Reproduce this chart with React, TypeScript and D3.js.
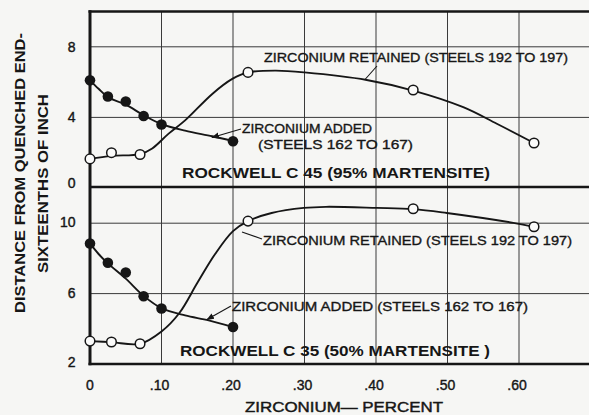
import React from "react";
import * as d3 from "d3";

// ---- data ----
const xAdded = [0, 0.025, 0.05, 0.075, 0.1, 0.2];
const topAdded = [6.1, 5.18, 4.9, 4.08, 3.6, 2.65];
const botAdded = [8.85, 7.75, 7.2, 5.85, 5.15, 4.1];

const xRetained = [0, 0.03, 0.07, 0.221, 0.452, 0.621];
const topRetained = [1.65, 2.0, 1.9, 6.55, 5.55, 2.55];
const botRetained = [3.3, 3.25, 3.15, 10.12, 10.82, 9.8];

// faired curves (as drawn in the picture)
const topAddedFitX = [0, 0.012, 0.025, 0.05, 0.075, 0.1, 0.133, 0.171, 0.2];
const topAddedFitY = [6.1, 5.62, 5.15, 4.72, 4.12, 3.62, 3.25, 2.93, 2.66];
const topRetFitX = [0, 0.03, 0.07, 0.087, 0.11, 0.133, 0.171, 0.199, 0.221, 0.26, 0.3, 0.387, 0.452, 0.522, 0.569, 0.621];
const topRetFitY = [1.65, 1.82, 1.92, 2.24, 3.08, 3.83, 5.33, 6.18, 6.55, 6.65, 6.55, 6.12, 5.52, 4.58, 3.64, 2.55];
const botAddedFitX = [0, 0.012, 0.025, 0.05, 0.075, 0.1, 0.133, 0.166, 0.2];
const botAddedFitY = [8.85, 8.25, 7.72, 6.85, 5.87, 5.17, 4.76, 4.48, 4.1];
const botRetFitX = [0, 0.03, 0.07, 0.1, 0.125, 0.15, 0.175, 0.2, 0.221, 0.254, 0.299, 0.33, 0.401, 0.452, 0.499, 0.592, 0.621];
const botRetFitY = [3.3, 3.24, 3.15, 3.85, 4.9, 6.6, 8.25, 9.55, 10.12, 10.58, 10.87, 10.93, 10.87, 10.8, 10.58, 10.02, 9.79];

const xTicks = [0, 0.1, 0.2, 0.3, 0.4, 0.5, 0.6];
const xTickLabels = ["0", ".10", ".20", ".30", ".40", ".50", ".60"];
const topYTicks = [0, 4, 8];
const botYTicks = [2, 6, 10];

const W = 589;
const H = 415;
const FONT = "'Liberation Sans', Arial, sans-serif";
const INK = "#161616";

export default function App() {
  const x = d3.scaleLinear().domain([0, 0.7]).range([90, 590.5]);
  const yTop = d3.scaleLinear().domain([0, 10]).range([188, 11.5]);
  const yBot = d3.scaleLinear().domain([2, 12]).range([364, 188]);

  const mkLine = (ys: d3.ScaleLinear<number, number>) =>
    d3
      .line<[number, number]>()
      .x((d) => x(d[0]))
      .y((d) => ys(d[1]))
      .curve(d3.curveCatmullRom.alpha(0.5));

  const zip = (a: number[], b: number[]) => a.map((v, i) => [v, b[i]] as [number, number]);

  const topLine = mkLine(yTop);
  const botLine = mkLine(yBot);

  const gridStroke = "#3a3a3a";

  return (
    <svg
      width={W}
      height={H}
      viewBox={`0 0 ${W} ${H}`}
      style={{ position: "absolute", left: 0, top: 0, background: "#f6f6f4" }}
      fontFamily={FONT}
    >
      <defs>
        <marker id="arr" viewBox="0 0 10 10" refX="9" refY="5" markerWidth="7" markerHeight="7" orient="auto-start-reverse">
          <path d="M0,1 L10,5 L0,9 z" fill={INK} />
        </marker>
      </defs>
      <rect x={0} y={0} width={W} height={H} fill="#f6f6f4" />

      {/* vertical grid */}
      {xTicks.slice(1).map((t) => (
        <line key={"vx" + t} x1={x(t)} x2={x(t)} y1={yTop(10)} y2={yBot(2)} stroke={gridStroke} strokeWidth={1} />
      ))}
      {/* horizontal grid */}
      {[4, 8].map((t) => (
        <line key={"ht" + t} x1={x(0)} x2={W + 5} y1={yTop(t)} y2={yTop(t)} stroke={gridStroke} strokeWidth={1} />
      ))}
      {[6, 10].map((t) => (
        <line key={"hb" + t} x1={x(0)} x2={W + 5} y1={yBot(t)} y2={yBot(t)} stroke={gridStroke} strokeWidth={1} />
      ))}

      {/* frame */}
      <line x1={x(0) - 1.5} x2={W + 5} y1={yTop(10)} y2={yTop(10)} stroke={INK} strokeWidth={2.6} />
      <line x1={x(0)} x2={W + 5} y1={187} y2={187} stroke={INK} strokeWidth={2.6} />
      <line x1={x(0) - 1.5} x2={W + 5} y1={yBot(2)} y2={yBot(2)} stroke={INK} strokeWidth={2.6} />
      <line x1={x(0)} x2={x(0)} y1={yTop(10) - 1.3} y2={yBot(2) + 1.3} stroke={INK} strokeWidth={3} />

      {/* curves */}
      <g fill="none" stroke={INK} strokeWidth={1.9}>
        <path d={topLine(zip(topAddedFitX, topAddedFitY)) || ""} />
        <path d={topLine(zip(topRetFitX, topRetFitY)) || ""} />
        <path d={botLine(zip(botAddedFitX, botAddedFitY)) || ""} />
        <path d={botLine(zip(botRetFitX, botRetFitY)) || ""} />
      </g>

      {/* markers */}
      {xAdded.map((v, i) => (
        <circle key={"ta" + i} cx={x(v)} cy={yTop(topAdded[i])} r={5.3} fill={INK} />
      ))}
      {xAdded.map((v, i) => (
        <circle key={"ba" + i} cx={x(v)} cy={yBot(botAdded[i])} r={5.3} fill={INK} />
      ))}
      {xRetained.map((v, i) => (
        <circle key={"tr" + i} cx={x(v)} cy={yTop(topRetained[i])} r={4.8} fill="#fbfbfa" stroke={INK} strokeWidth={1.5} />
      ))}
      {xRetained.map((v, i) => (
        <circle key={"br" + i} cx={x(v)} cy={yBot(botRetained[i])} r={4.8} fill="#fbfbfa" stroke={INK} strokeWidth={1.5} />
      ))}

      {/* leaders */}
      <g stroke={INK} strokeWidth={1.1} fill="none">
        <line x1={377} y1={66} x2={365} y2={79.5} />
        <line x1={241} y1={129} x2={212} y2={137.5} markerEnd="url(#arr)" />
        <line x1={242} y1={232} x2={262} y2={239} />
        <line x1={231} y1={306} x2={207} y2={319.5} markerEnd="url(#arr)" />
      </g>

      {/* annotations */}
      <g fill={INK} fontSize={13} stroke={INK} strokeWidth={0.35}>
        <text x={264} y={62} textLength={304} lengthAdjust="spacingAndGlyphs">ZIRCONIUM RETAINED (STEELS 192 TO 197)</text>
        <text x={242} y={133} textLength={130} lengthAdjust="spacingAndGlyphs">ZIRCONIUM ADDED</text>
        <text x={258} y={149} textLength={155} lengthAdjust="spacingAndGlyphs">(STEELS 162 TO 167)</text>
        <text x={263} y={245} textLength={309} lengthAdjust="spacingAndGlyphs">ZIRCONIUM RETAINED (STEELS 192 TO 197)</text>
        <text x={232} y={310.5} textLength={296} lengthAdjust="spacingAndGlyphs">ZIRCONIUM ADDED (STEELS 162 TO 167)</text>
      </g>
      <g fill={INK} fontSize={15} fontWeight="bold">
        <text x={182} y={177.5} textLength={308} lengthAdjust="spacingAndGlyphs">ROCKWELL C 45 (95% MARTENSITE)</text>
        <text x={180} y={356} textLength={310} lengthAdjust="spacingAndGlyphs">ROCKWELL C 35 (50% MARTENSITE )</text>
      </g>

      {/* y tick labels */}
      <g fill={INK} fontSize={14} textAnchor="end" stroke={INK} strokeWidth={0.4}>
        {topYTicks.map((t) => (
          <text key={"tyl" + t} x={75.5} y={yTop(t) + (t === 0 ? -0.5 : 5)}>{t}</text>
        ))}
        {botYTicks.map((t) => (
          <text key={"byl" + t} x={75.5} y={yBot(t) + (t === 2 ? 2.5 : 4)}>{t}</text>
        ))}
      </g>

      {/* x tick labels */}
      <g fill={INK} fontSize={14} textAnchor="middle" stroke={INK} strokeWidth={0.4}>
        {xTicks.map((t, i) => (
          <text key={"xl" + t} x={x(t) - (i === 0 ? 0 : 2)} y={390}>{xTickLabels[i]}</text>
        ))}
      </g>
      <text x={245} y={412} fill={INK} stroke={INK} strokeWidth={0.45} fontSize={15} textLength={198} lengthAdjust="spacingAndGlyphs">ZIRCONIUM— PERCENT</text>

      {/* y axis title */}
      <g fill={INK} fontSize={14} fontWeight="bold">
        <text transform="translate(25,313) rotate(-90)" textLength={280} lengthAdjust="spacingAndGlyphs">DISTANCE FROM QUENCHED END-</text>
        <text transform="translate(48,273) rotate(-90)" textLength={179} lengthAdjust="spacingAndGlyphs">SIXTEENTHS OF INCH</text>
      </g>
    </svg>
  );
}
